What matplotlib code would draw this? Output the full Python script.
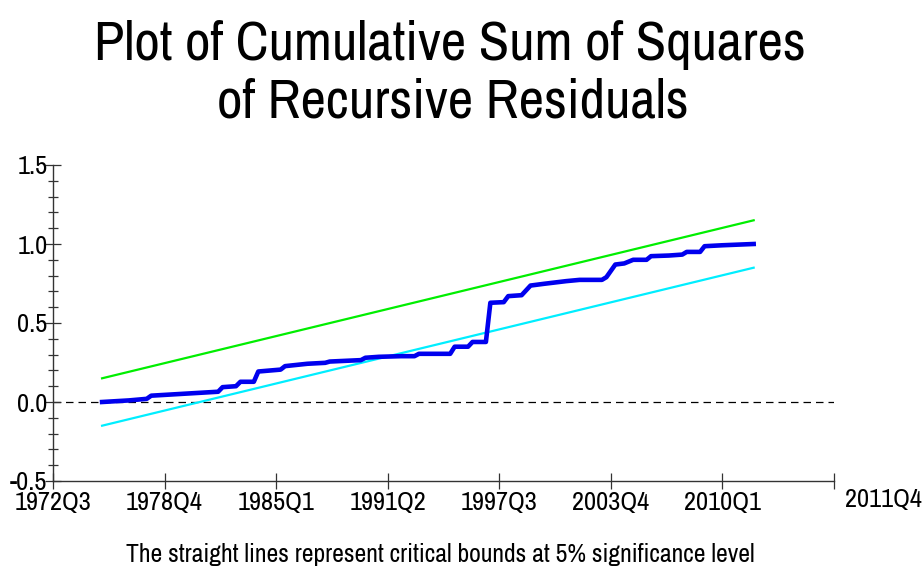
import matplotlib
matplotlib.use("Agg")
import matplotlib.pyplot as plt
import matplotlib.transforms as mtransforms
from matplotlib import font_manager
from matplotlib.ticker import MultipleLocator, FormatStrFormatter

# narrow sans to stand in for Arial Narrow
names = {f.name for f in font_manager.fontManager.ttflist}
FONT = "Archivo Narrow" if "Archivo Narrow" in names else "Liberation Sans"
plt.rcParams["font.family"] = [FONT, "DejaVu Sans"]

# quarters counted from 1972Q3 (= 0)
tick_pos = [0, 25, 50, 75, 100, 125, 150, 175]
tick_labels = ["1972Q3", "1978Q4", "1985Q1", "1991Q2", "1997Q3", "2003Q4", "2010Q1", ""]
end_label = "2011Q4"

# cumulative sum of squares of recursive residuals
cusumsq_q = [11, 17, 21, 22, 28, 37, 38, 41, 42, 45, 46, 51, 52, 57, 61, 62, 69, 70,
             73, 78, 81, 82, 89, 90, 93, 94, 97, 98, 101, 102, 105, 107, 110, 115,
             118, 123, 124, 126, 128, 130, 133, 134, 138, 141, 142, 145, 146, 150, 157]
cusumsq = [0.0, 0.01, 0.02, 0.04, 0.05, 0.065, 0.094, 0.10, 0.128, 0.128, 0.193,
           0.205, 0.227, 0.242, 0.248, 0.256, 0.265, 0.28, 0.286, 0.29, 0.29, 0.305,
           0.305, 0.35, 0.35, 0.38, 0.38, 0.628, 0.632, 0.67, 0.676, 0.737, 0.748,
           0.765, 0.773, 0.773, 0.79, 0.87, 0.877, 0.90, 0.90, 0.923, 0.927, 0.933,
           0.95, 0.95, 0.986, 0.992, 1.0]

# 5% critical bounds (straight lines, end points)
bound_q = [11, 157]
upper = [0.15, 1.15]
lower = [-0.15, 0.85]

fig = plt.figure(figsize=(9.24, 5.75), dpi=100)
ax = fig.add_axes([53 / 924, 1 - 481 / 575, (834 - 53) / 924, (481 - 165) / 575])

ax.axhline(0, color="black", lw=0.9, ls=(0, (6, 4)), zorder=1)
ax.plot(bound_q, upper, color="#00ee00", lw=1.6)
ax.plot(bound_q, lower, color="#00eeff", lw=1.6)
ax.plot(cusumsq_q, cusumsq, color="#0000ee", lw=3.3, solid_joinstyle="round")

ax.set_xlim(0, 175)
ax.set_ylim(-0.5, 1.5)
ax.set_xticks(tick_pos)
ax.set_xticklabels(tick_labels)
ax.yaxis.set_major_locator(MultipleLocator(0.5))
ax.yaxis.set_minor_locator(MultipleLocator(0.1))
ax.yaxis.set_major_formatter(FormatStrFormatter("%.1f"))

for s in ["top", "right"]:
    ax.spines[s].set_visible(False)
for s in ["left", "bottom"]:
    ax.spines[s].set_color("#333333")
    ax.spines[s].set_linewidth(1.0)

ax.tick_params(axis="both", which="major", direction="inout", length=12,
               width=0.9, color="#333333", labelsize=19)
ax.tick_params(axis="y", which="minor", direction="inout", length=7,
               width=0.9, color="#333333")
ax.tick_params(axis="y", which="major", pad=-2)
ax.tick_params(axis="x", which="major", pad=1)

# the odd end label sits right of the last tick
trans = mtransforms.blended_transform_factory(ax.transData, ax.transAxes)
ax.text(186, -0.022, end_label, transform=trans, ha="center", va="top",
        fontsize=19, clip_on=False)

fig.text(0.487, 0.922, "Plot of Cumulative Sum of Squares", ha="center", va="center",
         fontsize=40)
fig.text(0.49, 0.822, "of Recursive Residuals", ha="center", va="center", fontsize=40)
fig.text(0.476, 0.036, "The straight lines represent critical bounds at 5% significance level",
         ha="center", va="center", fontsize=18.5)

fig.savefig("out.png", dpi=100)
